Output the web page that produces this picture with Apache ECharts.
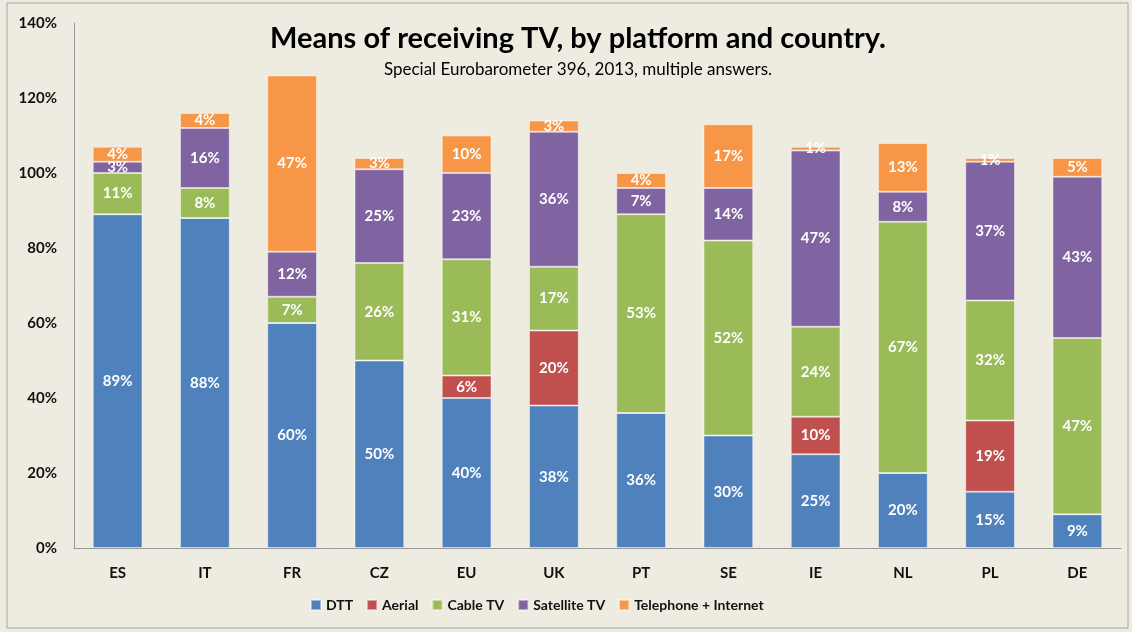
<!DOCTYPE html>
<html>
<head>
<meta charset="utf-8">
<script src="https://cdn.jsdelivr.net/npm/echarts@6/dist/echarts.min.js"></script>
<style>
  html, body { margin: 0; padding: 0; background: #fff; }
  #main { width: 1132px; height: 632px; }
</style>
</head>
<body>
<div id="main"></div>
<script>
// categories and values (percent)
const countries = ['ES', 'IT', 'FR', 'CZ', 'EU', 'UK', 'PT', 'SE', 'IE', 'NL', 'PL', 'DE'];
const dtt = [89, 88, 60, 50, 40, 38, 36, 30, 25, 20, 15, 9];
const aerial = [0, 0, 0, 0, 6, 20, 0, 0, 10, 0, 19, 0];
const cable = [11, 8, 7, 26, 31, 17, 53, 52, 24, 67, 32, 47];
const satellite = [3, 16, 12, 25, 23, 36, 7, 14, 47, 8, 37, 43];
const telephone = [4, 4, 47, 3, 10, 3, 4, 17, 1, 13, 1, 5];
const yTicks = [0, 20, 40, 60, 80, 100, 120, 140];

const font = 'Lato, "Open Sans", sans-serif';

// one stacked series
const makeSeries = (name, data, color) => ({
    name,
    type: 'bar',
    stack: 'total',
    data,
    barWidth: '57%',
    itemStyle: { color, borderColor: 'rgba(255,255,255,0.45)', borderWidth: 1 },
    label: {
        show: true,
        position: 'inside',
        color: '#fff',
        fontFamily: font,
        fontWeight: 'bold',
        fontSize: 15,
        formatter: (p) => (p.value ? p.value + '%' : '')
    }
});

const chart = echarts.init(document.getElementById('main'));
chart.setOption({
    backgroundColor: '#eeebe0',
    animation: false,
    title: {
        text: 'Means of receiving TV, by platform and country.',
        subtext: 'Special Eurobarometer 396, 2013, multiple answers.',
        left: 573,
        textAlign: 'center',
        top: 19,
        itemGap: 8,
        textStyle: { fontFamily: font, fontWeight: 'bold', fontSize: 29, color: '#000' },
        subtextStyle: { fontFamily: font, fontSize: 17, color: '#000' }
    },
    legend: {
        bottom: 15,
        left: 305,
        itemWidth: 10,
        itemHeight: 10,
        itemGap: 13,
        icon: 'rect',
        textStyle: { fontFamily: font, fontWeight: 'bold', fontSize: 14, color: '#111' }
    },
    grid: { left: 74, right: 11, top: 23, bottom: 84 },
    xAxis: {
        type: 'category',
        data: countries,
        axisTick: { show: false },
        axisLine: { lineStyle: { color: '#999' } },
        axisLabel: { margin: 18, fontFamily: font, fontWeight: 'bold', fontSize: 15, color: '#111' }
    },
    yAxis: {
        type: 'value',
        min: yTicks[0],
        max: yTicks[yTicks.length - 1],
        interval: 20,
        splitLine: { show: false },
        axisLine: { show: true, lineStyle: { color: '#999' } },
        axisTick: { show: false },
        axisLabel: { margin: 17, fontFamily: font, fontWeight: 'bold', fontSize: 15, color: '#111', formatter: '{value}%' }
    },
    series: [
        makeSeries('DTT', dtt, '#4f81bd'),
        makeSeries('Aerial', aerial, '#c0504d'),
        makeSeries('Cable TV', cable, '#9bbb59'),
        makeSeries('Satellite TV', satellite, '#8064a2'),
        makeSeries('Telephone + Internet', telephone, '#f79646')
    ],
    graphic: [{
        type: 'rect',
        shape: { x: 7, y: 3, width: 1121, height: 625 },
        style: { fill: 'none', stroke: '#a6a6a6', lineWidth: 1 },
        silent: true
    }]
});
</script>
</body>
</html>
